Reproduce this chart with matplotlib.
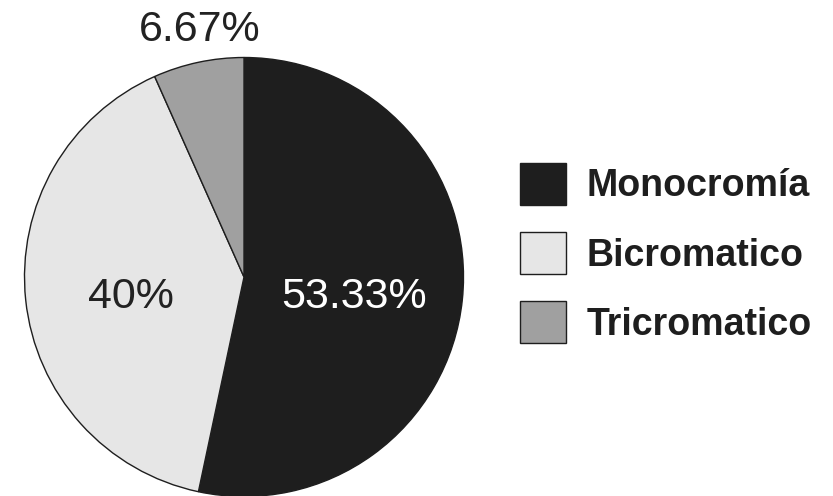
import matplotlib
matplotlib.use("Agg")
import matplotlib.pyplot as plt
from matplotlib.patches import Patch

categories = ["Monocromía", "Bicromatico", "Tricromatico"]
values = [53.33, 40.0, 6.67]
pct_labels = ["53.33%", "40%", "6.67%"]
colors = ["#1e1e1e", "#e6e6e6", "#a0a0a0"]
text_colors = ["white", "#222222", "#222222"]

plt.rcParams['font.family'] = ['Liberation Sans', 'DejaVu Sans']

W, H = 833, 496
fig = plt.figure(figsize=(W / 100, H / 100), dpi=100)
cx, cy, r = 244, 277, 219.5
ax = fig.add_axes([(cx - r) / W, (H - cy - r) / H, 2 * r / W, 2 * r / H])

wedges, _ = ax.pie(values, colors=colors, startangle=90, counterclock=False,
                   radius=1, wedgeprops=dict(edgecolor="#1e1e1e", linewidth=1.0))
ax.set_xlim(-1, 1)
ax.set_ylim(-1, 1)
ax.set_aspect('auto')
ax.axis('off')

label_pos = [(0.501, -0.093), (-0.517, -0.093), (-0.2, 1.125)]
for lab, (x, y), tc in zip(pct_labels, label_pos, text_colors):
    ax.text(x, y, lab, ha='center', va='center', fontsize=31, color=tc, clip_on=False)

fs = 27
handles = [Patch(facecolor=c, edgecolor="#1e1e1e", linewidth=1.0) for c in colors]
leg = fig.legend(handles, categories, loc='center left',
                 bbox_to_anchor=(520 / W, 1 - 253 / H),
                 frameon=False, prop=dict(size=fs, weight='bold'),
                 handlelength=1.23, handleheight=1.35, handletextpad=0.55,
                 labelspacing=0.72, borderpad=0, borderaxespad=0)
for t in leg.get_texts():
    t.set_color("#1e1e1e")

fig.savefig("out.png", dpi=100)
